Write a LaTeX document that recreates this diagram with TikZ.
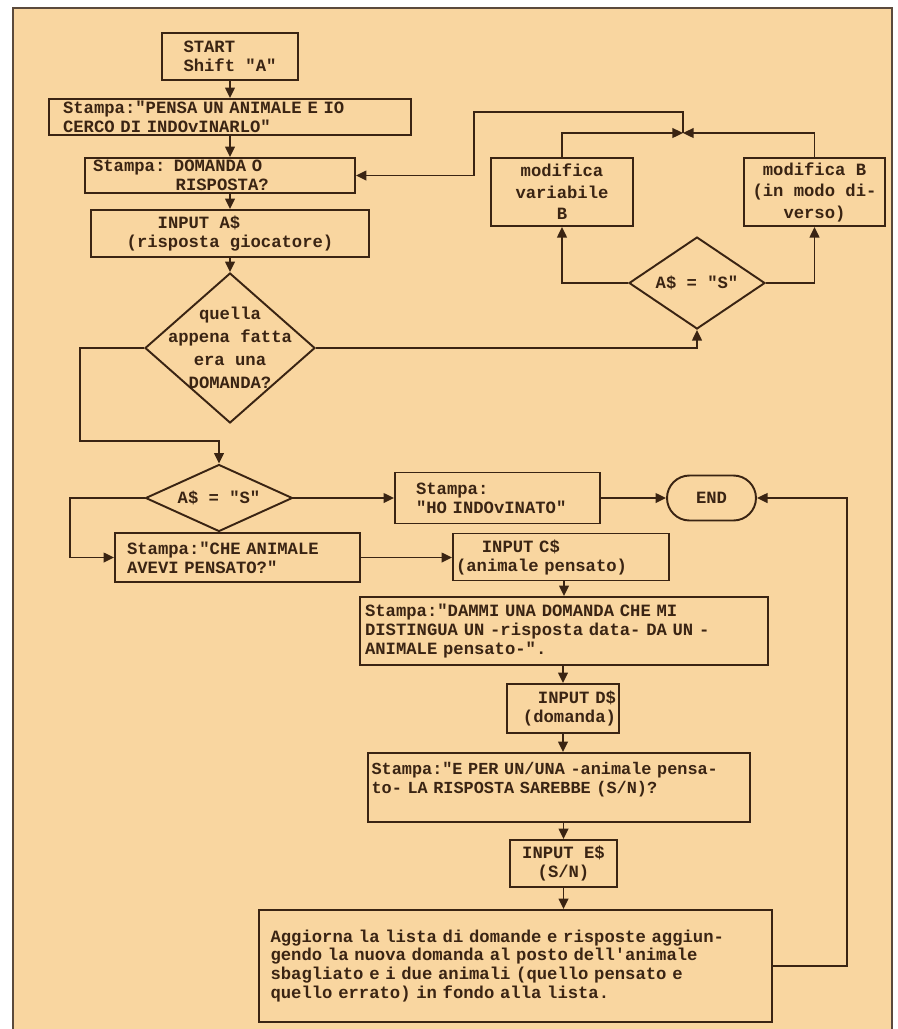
\documentclass[tikz,border=0pt]{standalone}
\usepackage{fontspec}
\setmonofont{Liberation Mono}
\usetikzlibrary{arrows.meta,shapes.geometric}
\definecolor{paper}{HTML}{F9D6A0}
\definecolor{ink}{HTML}{3A2413}
\definecolor{rim}{HTML}{5B4A3C}
\newcommand{\ind}[1]{\hspace*{#1\fontcharwd\font`\0}}
\newcommand{\tw}[1]{\ttfamily\bfseries\fontsize{9.8}{#1}\selectfont}

\begin{document}
\begin{tikzpicture}[x=0.02cm, y=-0.02cm,
  every node/.style={text=ink, font=\tw{10.8}},
  wire/.style={ink, line width=1.1pt},
  arr/.style={wire, -{Triangle[length=6pt,width=5.5pt]}},
  proc/.style={draw=ink, line width=1.1pt, rectangle, inner sep=0pt, align=left},
  dec/.style={draw=ink, line width=1.1pt, diamond, inner sep=0pt},
  term/.style={draw=ink, line width=1.1pt, rounded corners=0.45cm, inner sep=0pt},
  loose/.style={font=\tw{12.2}}
]
\useasboundingbox (0,0) rectangle (897,1029);
% sheet
\fill[white] (0,0) rectangle (897,1029);
\fill[paper] (13,8) rectangle (892,1040);
\draw[rim, line width=1pt] (13,8) rectangle (892,1040);
% left column
\node[proc, minimum width=2.72cm, minimum height=0.94cm] (start) at (230,56.5) {START\\Shift "A"};
\node[proc, minimum width=7.24cm, minimum height=0.72cm, text width=6.68cm] (pensa) at (230,117) {Stampa:"PENSA UN ANIMALE E IO\\CERCO DI INDOvINARLO"};
\node[proc, minimum width=5.40cm, minimum height=0.70cm, text width=5.08cm] (domanda) at (220,175.5) {Stampa: DOMANDA O\\\ind{8}RISPOSTA?};
\node[proc, minimum width=5.56cm, minimum height=0.94cm] (inputA) at (230,233.5) {\ind{3}INPUT A\$\\(risposta giocatore)};
\node[dec, minimum width=3.4cm, minimum height=3cm] (quella) at (230,348) {};
\node[align=center, font=\tw{13}] (quellaT) at (quella) {quella\\appena fatta\\era una\\DOMANDA?};
% loop on the right
\node[dec, minimum width=2.72cm, minimum height=1.84cm] (selB) at (697,283) {};
\node (selBT) at (selB) {A\$ = "S"};
\node[proc, loose, align=center, minimum width=2.84cm, minimum height=1.36cm] (modvar) at (562,192) {modifica\\variabile\\B};
\node[proc, loose, align=center, minimum width=2.82cm, minimum height=1.36cm] (modB) at (814.5,192) {modifica B\\(in modo di-\\verso)};
\coordinate (jn) at (683,133);
\coordinate (lpA) at (683,112);
\coordinate (lpB) at (474,112);
% second test
\node[dec, minimum width=2.94cm, minimum height=1.34cm] (selS) at (219,498) {};
\node (selST) at (selS) {A\$ = "S"};
\node[proc, minimum width=4.10cm, minimum height=1.02cm, text width=3.26cm] (ho) at (497.5,498) {Stampa:\\"HO INDOvINATO"};
\node[term, minimum width=1.78cm, minimum height=0.90cm] (fine) at (711.5,498) {END};
\node[proc, minimum width=4.90cm, minimum height=0.98cm, text width=4.42cm] (che) at (237.5,557.5) {Stampa:"CHE ANIMALE\\AVEVI PENSATO?"};
\node[proc, minimum width=4.32cm, minimum height=0.94cm, text width=4.20cm] (inputC) at (561,557) {\ind{2.5}INPUT C\$\\(animale pensato)};
\coordinate (qL) at (80,441);
\coordinate (sL) at (70,557.5);
% new question
\node[proc, minimum width=8.16cm, minimum height=1.36cm, text width=7.96cm] (dammi) at (564,631) {Stampa:"DAMMI UNA DOMANDA CHE MI\\DISTINGUA UN -risposta data- DA UN -\\ANIMALE pensato-".};
\node[proc, align=right, minimum width=2.24cm, minimum height=0.98cm, text width=2.12cm] (inputD) at (563,708.5) {INPUT D\$\\(domanda)};
\node[proc, font=\ttfamily\bfseries\fontsize{9.6}{10.8}\selectfont, minimum width=7.64cm, minimum height=1.38cm, text width=7.50cm] (eper) at (559,787.5) {Stampa:"E PER UN/UNA -animale pensa-\\to- LA RISPOSTA SAREBBE (S/N)?\\\mbox{}};
\node[proc, align=center, minimum width=2.14cm, minimum height=0.94cm] (inputE) at (563.5,863.5) {INPUT E\$\\(S/N)};
\node[proc, minimum width=10.26cm, minimum height=2.24cm, text width=9.80cm] (aggiorna) at (515.5,966) {Aggiorna la lista di domande e risposte aggiun-\\gendo la nuova domanda al posto dell'animale\\sbagliato e i due animali (quello pensato e\\quello errato) in fondo alla lista.};
\coordinate (rR) at (847,963);
% arrows
\draw[arr] (start) -- (pensa);
\draw[arr] (pensa.south) -- (pensa.south |- domanda.north);
\draw[arr] (domanda.south -| inputA.north) -- (inputA.north);
\draw[arr] (inputA) -- (quella);
\draw[arr] (quella.west) -| (qL) -| (selS.north);
\draw[arr] (quella.east) -| (selB.south);
\draw[arr] (selB.west) -| (modvar.south);
\draw[arr] (selB.east) -| (modB.south);
\draw[arr] (modvar.north) |- (jn);
\draw[arr] (modB.north) |- (jn);
\draw[arr] (jn) -- (lpA) -- (lpB) |- (domanda.east);
\draw[arr] (selS.west) -| (sL) -- (che.west);
\draw[arr] (selS.east) -- (ho.west);
\draw[arr] (ho.east) -- (ho.east -| fine.west);
\draw[arr] (che.east) -- (che.east -| inputC.west);
\draw[arr] (dammi.north |- inputC.south) -- (dammi.north);
\draw[arr] (inputD.north |- dammi.south) -- (inputD.north);
\draw[arr] (inputD.south) -- (inputD.south |- eper.north);
\draw[arr] (inputE.north |- eper.south) -- (inputE.north);
\draw[arr] (inputE.south) -- (inputE.south |- aggiorna.north);
\draw[arr] (aggiorna.east) -- (aggiorna.east -| rR) |- (fine.east);
\end{tikzpicture}
\end{document}
